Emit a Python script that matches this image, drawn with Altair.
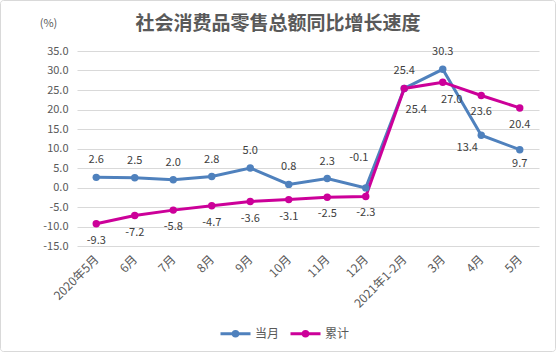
import altair as alt
import pandas as pd

# ---- data ----
months = ["2020年5月", "6月", "7月", "8月", "9月", "10月", "11月", "12月",
          "2021年1-2月", "3月", "4月", "5月"]
monthly = [2.6, 2.5, 2.0, 2.8, 5.0, 0.8, 2.3, -0.1, 25.4, 30.3, 13.4, 9.7]
cumulative = [-9.3, -7.2, -5.8, -4.7, -3.6, -3.1, -2.5, -2.3, 25.4, 27.0, 23.6, 20.4]
series_names = ["当月", "累计"]
y_ticks = [-15, -10, -5, 0, 5, 10, 15, 20, 25, 30, 35]
title_text = "社会消费品零售总额同比增长速度"

rows = []
for m, a, b in zip(months, monthly, cumulative):
    rows.append({"month": m, "series": series_names[0], "value": a})
    rows.append({"month": m, "series": series_names[1], "value": b})
df = pd.DataFrame(rows)

# ---- styles ----
colors = ["#4F81BD", "#CC0099"]
grey = "#595959"
font = "Noto Sans CJK SC"
W, H = 462, 195

x_enc = alt.X("month:N", sort=months, title=None,
              axis=alt.Axis(labelAngle=-45, labelAlign="right", labelBaseline="middle",
                            labelPadding=11, ticks=False, domain=False, grid=False,
                            labelFontSize=12, labelColor=grey, labelFont=font))
y_enc = alt.Y("value:Q", scale=alt.Scale(domain=[-15, 35], nice=False, zero=False),
              axis=alt.Axis(values=y_ticks, format=".1f",
                            labelExpr="replace(datum.label, '\u2212', '-')",
                            title="(%)", titleAngle=0,
                            titleX=-29, titleY=-28, titleAlign="center",
                            titleBaseline="middle", titleFontWeight="normal",
                            titleColor=grey, titleFontSize=11, titleFont=font,
                            labelFontSize=11, labelColor=grey, labelFont=font,
                            labelPadding=9, ticks=False, domain=False,
                            gridColor="#d9d9d9", gridWidth=1))

legend = alt.Legend(title=None, orient="none", legendX=142, legendY=266,
                    direction="horizontal",
                    symbolType="M-1,0H1M-0.15,0a0.15,0.15 0 1,0 0.3,0a0.15,0.15 0 1,0 -0.3,0",
                    symbolSize=900, symbolStrokeWidth=3, labelFontSize=12,
                    labelColor=grey, labelFont=font, labelOffset=3, columnPadding=4)
color_enc = alt.Color("series:N", scale=alt.Scale(domain=series_names, range=colors),
                      legend=legend)

base = alt.Chart(df).encode(x=x_enc, y=y_enc)
lines = base.mark_line(strokeWidth=3).encode(color=color_enc)
points = base.mark_circle(size=55, opacity=1).encode(color=color_enc)

# label offsets (dx, dy) per series; special cases listed by month
label_default = {"当月": (0, -17), "累计": (0, 17)}
label_special = {
    "当月": {"12月": (-7, -30), "4月": (-14, 13), "5月": (0, 14)},
    "累计": {"2021年1-2月": (12, 22), "3月": (9, 18)},
}

label_text = "replace(format(datum.value, '.1f'), '\u2212', '-')"

labels = []
for s in series_names:
    specials = label_special[s]
    dx, dy = label_default[s]
    labels.append(
        base.transform_filter(alt.datum.series == s)
        .transform_filter(~alt.FieldOneOfPredicate(field="month", oneOf=list(specials)))
        .transform_calculate(lbl=label_text)
        .mark_text(dx=dx, dy=dy, fontSize=11, color="#404040", font=font, baseline="middle")
        .encode(text="lbl:N")
    )
    for m, (sdx, sdy) in specials.items():
        labels.append(
            base.transform_filter((alt.datum.series == s) & (alt.datum.month == m))
            .transform_calculate(lbl=label_text)
            .mark_text(dx=sdx, dy=sdy, fontSize=11, color="#404040", font=font, baseline="middle")
            .encode(text="lbl:N")
        )

border = alt.Chart(pd.DataFrame({"k": [0]})).mark_rect(
    fillOpacity=0, stroke="#d9d9d9", strokeWidth=1, cornerRadius=3
).encode(x=alt.value(-76.5), x2=alt.value(W + 16.5), y=alt.value(-50.5), y2=alt.value(H + 105.5))

chart = alt.layer(border, lines, points, *labels).properties(
    width=W, height=H,
    title=alt.TitleParams(title_text, fontSize=19, font=font, fontWeight="bold",
                          color=grey, anchor="middle", dx=-30, offset=-43,
                          frame="group", baseline="middle"),
    autosize=alt.AutoSizeParams(type="none"),
    padding={"left": 77, "top": 51, "right": 17, "bottom": 106},
    background="white",
).configure_view(strokeWidth=0)

chart.save("out.html", embed_options={"renderer": "svg", "actions": False})
